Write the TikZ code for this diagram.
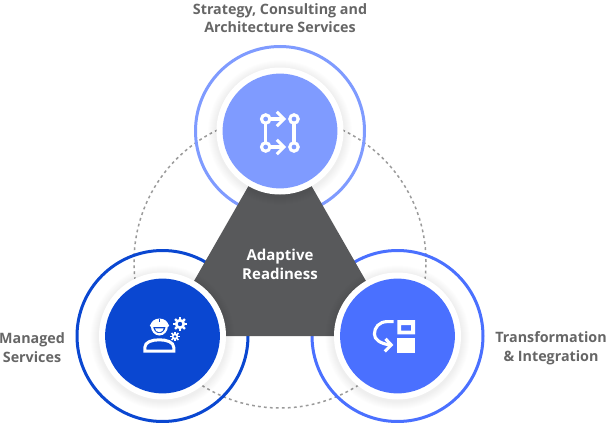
\documentclass[tikz,border=0pt]{standalone}
\usepackage{fontspec}
\setmainfont{Open Sans}
\definecolor{cTop}{HTML}{7F9BFF}
\definecolor{cLeft}{HTML}{0A47D1}
\definecolor{cRight}{HTML}{4A70FF}
\definecolor{cHex}{HTML}{58595B}
\definecolor{cText}{HTML}{666666}
\definecolor{cDash}{HTML}{9A9A9A}
\tikzset{
  ringline/.style={line width=3pt},
  dashring/.style={draw=cDash,line width=1.5pt,dash pattern=on 2.8pt off 3.2pt},
  label/.style={text=cText,font=\fontsize{14.3}{18.5}\selectfont\bfseries,align=center,inner sep=0pt},
  centerlabel/.style={text=white,font=\fontsize{15}{19}\selectfont\bfseries,align=center,inner sep=0pt},
  icon/.style={draw=white,line width=3.1pt,line cap=butt,line join=miter}
}
\newcommand{\softdisc}[3]{%
  \foreach \rr in {72,71,70,69,68,67,66,65}{%
    \fill[black,opacity=0.006] (#1,#2+1.5) circle[radius=\rr pt];}%
  \fill[white] (#1,#2) circle[radius=63.5pt];
  \fill[#3] (#1,#2) circle[radius=57.4pt];
}
\newcommand{\gearicon}[4]{%
  \fill[white] (#1,#2) circle[radius=#3 pt];
  \foreach \a in {0,45,...,315}{%
    \draw[white,line width=#4 pt] (#1,#2) ++(\a:#3 pt-0.5pt) -- ++(\a:2.2pt);}%
  \fill[cLeft] (#1,#2) circle[radius=#3 pt*0.42];
}
\begin{document}
\begin{tikzpicture}[x=1pt,y=-1pt]
\useasboundingbox (0,0) rectangle (608,423);
\fill[white] (0,0) rectangle (608,423);
\coordinate (cA) at (280,131);
\coordinate (cB) at (162.5,336);
\coordinate (cC) at (397.5,336);
\draw[dashring] (280,262) circle[radius=146pt];
\draw[ringline,cTop] (cA) circle[radius=84.5pt];
\draw[ringline,cLeft] (cB) circle[radius=85.5pt];
\draw[ringline,cRight] (cC) circle[radius=85.5pt];
\fill[cHex] (cA) -- (cC) -- (cB) -- cycle;
\softdisc{280}{131}{cTop}
\softdisc{162.5}{336}{cLeft}
\softdisc{397.5}{336}{cRight}
% top icon
\draw[icon] (265.7,124) -- (265.7,142);
\draw[icon] (294,124) -- (294,142);
\draw[icon] (270.5,119) -- (283,119);
\draw[icon] (270.5,147) -- (283,147);
\draw[icon] (276.8,111.8) -- (284,119) -- (276.8,126.2);
\draw[icon] (276.8,139.8) -- (284,147) -- (276.8,154.2);
\foreach \p in {(265.7,119),(294,119),(265.7,147),(294,147)}
  \draw[icon] \p circle[radius=4.2pt];
% left icon
\draw[icon,line width=3pt] (144.8,351.2) -- (144.8,347.5) .. controls (144.8,342) and (152,339.8) .. (159.3,339.8) .. controls (166.6,339.8) and (173.8,342) .. (173.8,347.5) -- (173.8,351.2) -- cycle;
\fill[white] (150.5,326) arc[start angle=180,end angle=360,x radius=9pt,y radius=-7.5pt] -- cycle;
\fill[cLeft] (158.5,319) rectangle (160.3,322);
\draw[white,line width=2.4pt,line cap=round] (151,325.4) -- (168,325.4);
\draw[white,line width=2.2pt] (152,326) arc[start angle=180,end angle=360,x radius=7.4pt,y radius=8.4pt];
\fill[white] (155,328.4) arc[start angle=180,end angle=360,x radius=4.3pt,y radius=3.8pt] -- cycle;
\gearicon{180}{324}{5.2}{2.4}
\gearicon{175}{336.5}{3.2}{1.7}
% right icon
\fill[white,even odd rule] (397.3,320) rectangle (415,334.4) (401,325) rectangle (411,330.7);
\fill[white] (397.3,338.3) rectangle (415,352.7);
\draw[icon] (393.5,321.6) -- (387.5,321.6) .. controls (379,321.6) and (374.4,327.5) .. (374.4,334) .. controls (374.4,339.5) and (380,343.5) .. (390,345);
\draw[icon] (385.5,338.8) -- (391.3,345) -- (384.8,351.5);
% labels
\node[label] (n1) at (280,18) {Strategy, Consulting and\\Architecture Services};
\node[label] (n2) at (32,347.5) {Managed\\Services};
\node[label] (n3) at (551,348) {Transformation\\\& Integration};
\node[centerlabel] (n4) at (280,264.5) {Adaptive\\Readiness};
\end{tikzpicture}
\end{document}
